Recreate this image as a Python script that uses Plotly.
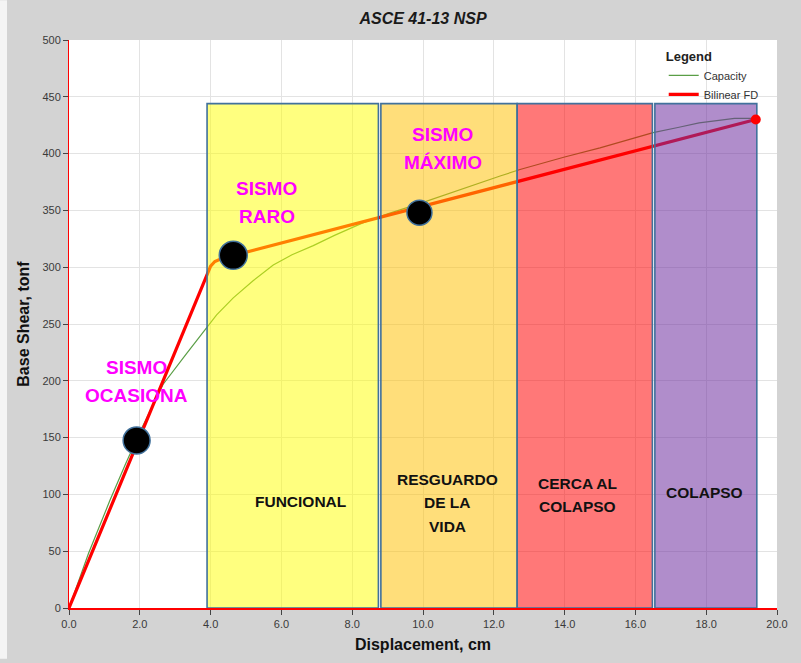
import plotly.graph_objects as go

# Capacity curve (displacement cm, base shear tonf)
cap_x = [0.0, 0.55, 1.16, 1.6, 2.05, 2.66, 3.32, 3.93, 4.17, 4.64, 5.2, 5.77,
         6.3, 6.9, 7.5, 8.3, 9.0, 9.9, 11.0, 12.2, 12.74, 14.0, 15.0, 16.5,
         17.2, 17.8, 18.8, 19.4]
cap_y = [0, 48, 95, 127, 158, 197, 224, 248, 258, 273, 288, 302,
         311, 319, 328, 339, 347, 356, 368, 380.5, 386, 397, 405, 418.5,
         423, 427, 431, 431]

# Bilinear force-displacement idealisation
bil_x = [0.0, 4.0, 4.12, 4.3, 19.4]
bil_y = [0, 301, 305, 307.5, 430]

# Earthquake demand points
pt_x = [1.91, 4.64, 9.9]
pt_y = [147.5, 310.5, 348]
pt_size = [27, 28, 25]

# Performance zones
zone_x0 = [3.9, 8.81, 12.66, 16.55]
zone_x1 = [8.74, 12.66, 16.48, 19.43]
zone_top = 444
zone_fill = ["rgba(255,255,0,0.5)", "rgba(255,192,0,0.52)",
             "rgba(255,0,0,0.53)", "rgba(112,48,160,0.55)"]

# Zone labels (one entry per text line)
zone_lbl_text = ["FUNCIONAL", "RESGUARDO", "DE LA", "VIDA", "CERCA AL", "COLAPSO", "COLAPSO"]
zone_lbl_x = [6.54, 10.68, 10.68, 10.68, 14.36, 14.36, 17.94]
zone_lbl_y = [93.5, 112.8, 92.7, 71.7, 109.3, 89.2, 101.4]

# Earthquake level labels (one entry per text line)
eq_lbl_text = ["SISMO", "OCASIONA", "SISMO", "RARO", "SISMO", "MÁXIMO"]
eq_lbl_x = [1.91, 1.91, 5.59, 5.59, 10.56, 10.56]
eq_lbl_y = [211.5, 187, 368.9, 344.4, 417, 392.5]

x_ticks = [0, 2, 4, 6, 8, 10, 12, 14, 16, 18, 20]
y_ticks = [0, 50, 100, 150, 200, 250, 300, 350, 400, 450, 500]

FONT = "Liberation Sans, Arial, sans-serif"

fig = go.Figure()

fig.add_trace(go.Scatter(x=cap_x, y=cap_y, mode="lines", name="Capacity",
                         line=dict(color="#5a9e46", width=1.2)))
fig.add_trace(go.Scatter(x=bil_x, y=bil_y, mode="lines", name="Bilinear FD",
                         line=dict(color="#ff0000", width=3.2)))

for x0, x1, fc in zip(zone_x0, zone_x1, zone_fill):
    fig.add_trace(go.Scatter(
        x=[x0, x1, x1, x0, x0], y=[0, 0, zone_top, zone_top, 0],
        mode="lines", fill="toself", fillcolor=fc,
        line=dict(color="#41719c", width=1.6),
        showlegend=False, hoverinfo="skip"))

# end point of the bilinear curve
fig.add_trace(go.Scatter(x=[bil_x[-1]], y=[bil_y[-1]], mode="markers",
                         marker=dict(color="#ff0000", size=10, opacity=1),
                         showlegend=False))

fig.add_trace(go.Scatter(x=pt_x, y=pt_y, mode="markers",
                         marker=dict(color="#000000", size=pt_size, opacity=1,
                                     line=dict(color="#41719c", width=1.5)),
                         showlegend=False))

for t, x, y in zip(zone_lbl_text, zone_lbl_x, zone_lbl_y):
    fig.add_annotation(x=x, y=y, text=f"<b>{t}</b>", showarrow=False,
                       font=dict(family=FONT, size=15.5, color="#111111"))

for t, x, y in zip(eq_lbl_text, eq_lbl_x, eq_lbl_y):
    fig.add_annotation(x=x, y=y, text=f"<b>{t}</b>", showarrow=False,
                       font=dict(family=FONT, size=19, color="#ff00ff"))

# thin light strip along the left edge
fig.add_shape(type="rect", xref="paper", yref="paper",
              x0=-69 / 708, x1=-62 / 708, y0=-51 / 572, y1=1 + 40 / 572,
              fillcolor="#f4f4f4", line=dict(width=0), layer="below")

fig.update_layout(
    width=801, height=663,
    margin=dict(l=69, r=24, t=40, b=51),
    paper_bgcolor="#d3d3d3", plot_bgcolor="#ffffff",
    title=dict(text="<b><i>ASCE 41-13 NSP</i></b>", x=(69 + 354) / 801, xanchor="center",
               y=1 - 18 / 663, yanchor="middle",
               font=dict(family=FONT, size=16, color="#1a1a1a")),
    font=dict(family=FONT),
    legend=dict(x=0.84, y=0.993, xanchor="left", yanchor="top",
                bgcolor="rgba(0,0,0,0)",
                title=dict(text="<b>Legend</b>", font=dict(size=13, color="#222222")),
                font=dict(size=11, color="#333333"),
                tracegroupgap=0),
    showlegend=True,
)

fig.update_xaxes(range=[0, 20], tickvals=x_ticks,
                 ticktext=[f"{v:.1f}" for v in x_ticks],
                 showgrid=True, gridcolor="#e3e3e3", gridwidth=1,
                 showline=True, linecolor="#ff0000", linewidth=1.5,
                 ticks="outside", ticklen=5, tickcolor="#444444",
                 tickfont=dict(size=11, color="#3a3a3a"),
                 zeroline=False,
                 title=dict(text="<b>Displacement, cm</b>", standoff=10,
                            font=dict(size=16, color="#111111")))
fig.update_yaxes(range=[0, 500], tickvals=y_ticks,
                 showgrid=True, gridcolor="#e3e3e3", gridwidth=1,
                 showline=True, linecolor="#ff0000", linewidth=1,
                 ticks="outside", ticklen=5, tickcolor="#444444",
                 tickfont=dict(size=11, color="#3a3a3a"),
                 zeroline=False,
                 title=dict(text="<b>Base Shear, tonf</b>", standoff=8,
                            font=dict(size=16, color="#111111")))

fig.write_html("out.html")
